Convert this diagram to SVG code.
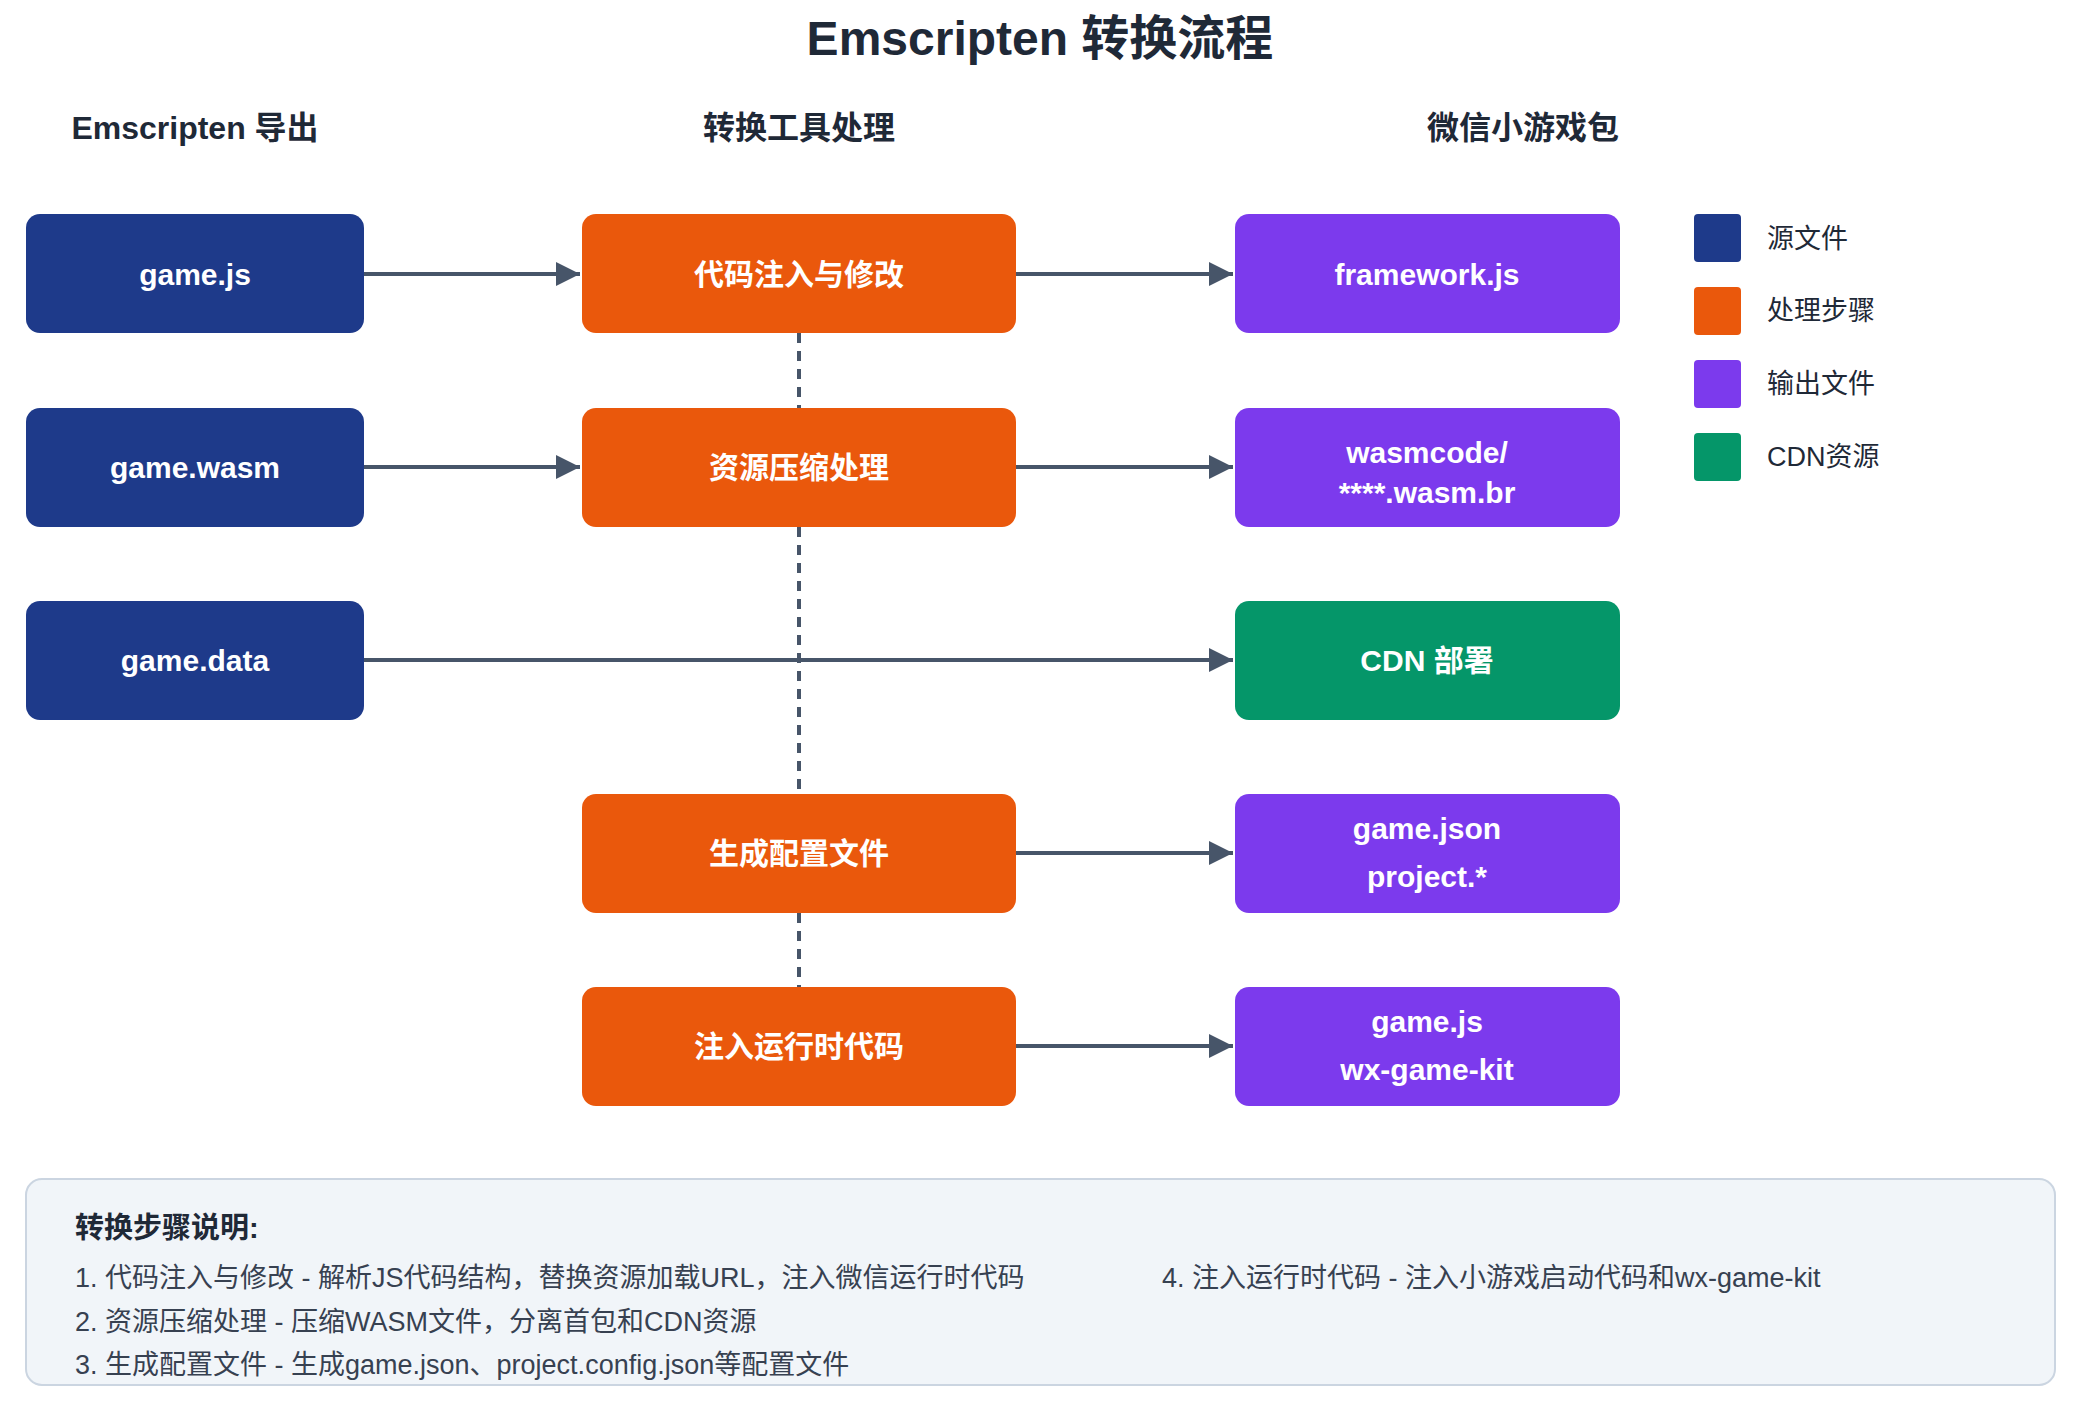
<svg xmlns="http://www.w3.org/2000/svg" width="2075" height="1409" viewBox="0 0 2075 1409">
<style>
text{font-family:"Liberation Sans","Noto Sans CJK SC",sans-serif}
.h{font-size:32px;font-weight:bold;fill:#1f2937;text-anchor:middle}
.n{font-size:30px;font-weight:bold;fill:#fff;text-anchor:middle;dominant-baseline:central}
.l{font-size:27px;fill:#1f2937;dominant-baseline:central}
.t{font-size:27px;fill:#374151}
.src{fill:#1e3a8a}.proc{fill:#ea580c}.out{fill:#7c3aed}.cdn{fill:#059669}
.a{stroke:#475569;stroke-width:4;fill:none;marker-end:url(#ar)}
.d{stroke:#475569;stroke-width:4;stroke-dasharray:10 8;fill:none}
</style>
<defs><marker id="ar" viewBox="0 0 10 10" refX="10" refY="5" markerWidth="6" markerHeight="6" orient="auto"><path d="M0,0L10,5L0,10z" fill="#475569"/></marker></defs>
<rect width="2075" height="1409" fill="#fff"/>
<text x="1040" y="55" font-size="48" font-weight="bold" fill="#1f2937" text-anchor="middle">Emscripten 转换流程</text>
<text class="h" x="195" y="139">Emscripten 导出</text>
<text class="h" x="799" y="139">转换工具处理</text>
<text class="h" x="1523" y="139">微信小游戏包</text>
<g id="connectors">
<path class="d" d="M799,333V408M799,527V794M799,913V987"/>
<path class="a" d="M364,274H580"/>
<path class="a" d="M364,467H580"/>
<path class="a" d="M364,660H1233"/>
<path class="a" d="M1016,274H1233"/>
<path class="a" d="M1016,467H1233"/>
<path class="a" d="M1016,853H1233"/>
<path class="a" d="M1016,1046H1233"/>
</g>
<g id="n1"><rect class="src" x="26" y="214" width="338" height="119" rx="14"/><text class="n" x="195" y="274">game.js</text></g>
<g id="n2"><rect class="src" x="26" y="408" width="338" height="119" rx="14"/><text class="n" x="195" y="467">game.wasm</text></g>
<g id="n3"><rect class="src" x="26" y="601" width="338" height="119" rx="14"/><text class="n" x="195" y="660">game.data</text></g>
<g id="p1"><rect class="proc" x="582" y="214" width="434" height="119" rx="14"/><text class="n" x="799" y="274">代码注入与修改</text></g>
<g id="p2"><rect class="proc" x="582" y="408" width="434" height="119" rx="14"/><text class="n" x="799" y="467">资源压缩处理</text></g>
<g id="p3"><rect class="proc" x="582" y="794" width="434" height="119" rx="14"/><text class="n" x="799" y="853">生成配置文件</text></g>
<g id="p4"><rect class="proc" x="582" y="987" width="434" height="119" rx="14"/><text class="n" x="799" y="1046">注入运行时代码</text></g>
<g id="o1"><rect class="out" x="1235" y="214" width="385" height="119" rx="14"/><text class="n" x="1427" y="274">framework.js</text></g>
<g id="o2"><rect class="out" x="1235" y="408" width="385" height="119" rx="14"/><text class="n" x="1427" y="452">wasmcode/</text><text class="n" x="1427" y="492">****.wasm.br</text></g>
<g id="o3"><rect class="cdn" x="1235" y="601" width="385" height="119" rx="14"/><text class="n" x="1427" y="660">CDN 部署</text></g>
<g id="o4"><rect class="out" x="1235" y="794" width="385" height="119" rx="14"/><text class="n" x="1427" y="828">game.json</text><text class="n" x="1427" y="876">project.*</text></g>
<g id="o5"><rect class="out" x="1235" y="987" width="385" height="119" rx="14"/><text class="n" x="1427" y="1021">game.js</text><text class="n" x="1427" y="1069">wx-game-kit</text></g>
<g id="legend">
<rect class="src" x="1694" y="214" width="47" height="48" rx="4"/><text class="l" x="1767" y="239">源文件</text>
<rect class="proc" x="1694" y="287" width="47" height="48" rx="4"/><text class="l" x="1767" y="311">处理步骤</text>
<rect class="out" x="1694" y="360" width="47" height="48" rx="4"/><text class="l" x="1767" y="384">输出文件</text>
<rect class="cdn" x="1694" y="433" width="47" height="48" rx="4"/><text class="l" x="1767" y="457">CDN资源</text>
</g>
<g id="notes">
<rect x="26" y="1179" width="2029" height="206" rx="16" fill="#f1f5f9" stroke="#cbd5e1" stroke-width="2"/>
<text x="75" y="1238" font-size="29" font-weight="bold" fill="#1f2937">转换步骤说明:</text>
<text class="t" x="75" y="1287">1. 代码注入与修改 - 解析JS代码结构，替换资源加载URL，注入微信运行时代码</text>
<text class="t" x="1162" y="1287">4. 注入运行时代码 - 注入小游戏启动代码和wx-game-kit</text>
<text class="t" x="75" y="1331">2. 资源压缩处理 - 压缩WASM文件，分离首包和CDN资源</text>
<text class="t" x="75" y="1374">3. 生成配置文件 - 生成game.json、project.config.json等配置文件</text>
</g>
</svg>
